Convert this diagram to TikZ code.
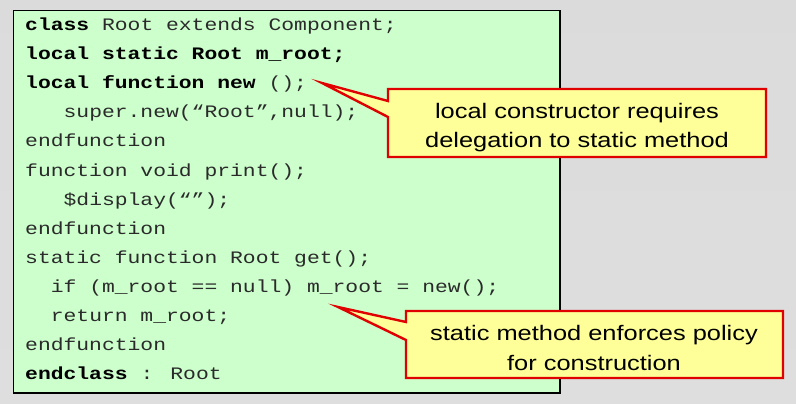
\documentclass[tikz,border=0pt]{standalone}
\usepackage{fontspec}
\newfontfamily\codefont[FakeStretch=1.22]{Liberation Mono}
\newfontfamily\callfont[FakeStretch=1.21]{Liberation Sans}
\definecolor{codegreen}{HTML}{CCFFCC}
\definecolor{callyellow}{HTML}{FFFF99}
\definecolor{callred}{HTML}{E00000}
\definecolor{codeink}{HTML}{2A2A2A}
\newcommand{\kw}[1]{\textcolor{black}{\textbf{#1}}}
\tikzset{
  codeline/.style={anchor=base west, inner sep=0pt, font=\codefont\fontsize{17.5}{20}\selectfont, text=codeink},
  calltext/.style={anchor=base, inner sep=0pt, font=\callfont\fontsize{21}{24}\selectfont, text=black},
  callshape/.style={draw=callred, fill=callyellow, line width=2.4pt, line join=miter},
  codebox/.style={draw=black, fill=codegreen, line width=1.8pt}
}
\begin{document}
\begin{tikzpicture}[x=1pt,y=-1pt]
\useasboundingbox (0,0) rectangle (796,404);
\shade[top color=black!14, middle color=black!5, bottom color=black!13] (0,0) rectangle (796,404);
% code box
\draw[codebox] (13.5,10.5) rectangle (560,393);
\def\lp{29.08}
\foreach \i/\t in {
 0/{\kw{class} Root extends Component;},
 1/{\kw{local static Root m\_root;}},
 2/{\kw{local function new} ();},
 3/{\ \ \ super.new(“Root”,null);},
 4/{endfunction},
 5/{function void print();},
 6/{\ \ \ \$display(“”);},
 7/{endfunction},
 8/{static function Root get();},
 9/{\ \ if (m\_root == null) m\_root = new();},
 10/{\ \ return m\_root;},
 11/{endfunction},
 12/{\kw{endclass} : Root}}
 { \node[codeline] (l\i) at (25, 30.6+\i*\lp) {\t}; }
% callout 1
\draw[callshape] (388,89) -- (766,89) -- (766,157) -- (388,157) -- (388,117) -- (322,83) -- (388,101) -- cycle;
\node[calltext] (c1a) at (577,118) {local constructor requires};
\node[calltext] (c1b) at (577,147) {delegation to static method};
% callout 2
\draw[callshape] (406,311) -- (783,311) -- (783,378) -- (406,378) -- (406,340) -- (338,307) -- (406,322) -- cycle;
\node[calltext] (c2a) at (594,340) {static method enforces policy};
\node[calltext] (c2b) at (594,370) {for construction};
\end{tikzpicture}
\end{document}
